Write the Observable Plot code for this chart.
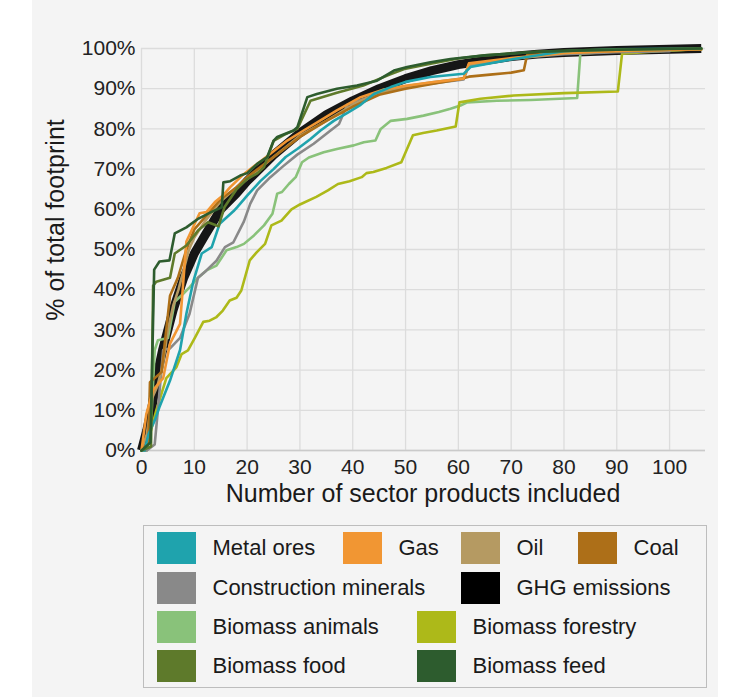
<!DOCTYPE html>
<html><head><meta charset="utf-8">
<script src="https://cdn.jsdelivr.net/npm/d3@7"></script>
<script src="https://cdn.jsdelivr.net/npm/@observablehq/plot@0.6"></script>
<style>
body{margin:0;background:#fff;font-family:"Liberation Sans",Arial,sans-serif;color:#1a1a1a;}
#panel{position:absolute;left:32px;top:0;width:686px;height:697px;background:#f4f4f4;}
#chart{position:absolute;left:32px;top:0;}
#ylab{position:absolute;left:-95px;top:205px;width:300px;height:30px;line-height:30px;font-size:25px;text-align:center;transform:rotate(-90deg);transform-origin:50% 50%;white-space:nowrap;}
#xlab{position:absolute;left:173px;top:478px;width:500px;line-height:30px;font-size:25px;text-align:center;white-space:nowrap;}
#legend{position:absolute;left:143px;top:525px;width:562px;height:161px;border:1.5px solid #bdbdbd;}
.sw{position:absolute;width:39px;height:32px;}
.lt{position:absolute;height:32px;line-height:32px;font-size:22px;white-space:nowrap;}
</style></head><body>
<div id="panel"></div>
<div id="chart"></div>
<div id="ylab">% of total footprint</div>
<div id="xlab">Number of sector products included</div>
<div id="legend"></div>
<script>
// Series names and colours
const seriesNames = ["Metal ores","Gas","Oil","Coal","Construction minerals","GHG emissions","Biomass animals","Biomass forestry","Biomass food","Biomass feed"];
const seriesColors = ["#1fa3ad","#f19633","#b59a62","#ad6f18","#898989","#000000","#89c27a","#adb919","#5e7a2b","#2d5c2e"];
const xTicks = [0,10,20,30,40,50,60,70,80,90,100];
const yTicks = [0,10,20,30,40,50,60,70,80,90,100];

// Cumulative % of total footprint vs number of sector products, [x, y]
const metalOres = [[0,0],[0.6,0],[1.3,4],[2.5,7.5],[3.4,10.8],[5.4,17.4],[7.3,25],[8.5,34],[9.8,42],[11.4,49],[13.3,50.6],[14.8,56.4],[17.4,59.5],[18.1,60.5],[20,63.4],[22.5,67],[25,70],[27.3,73],[29.5,75],[32,77.5],[33.9,79.6],[36.4,82],[39,84],[41.5,86],[44,88.7],[47.2,90.4],[50,91.7],[54.7,92.9],[61,93.7],[62.3,95.4],[70.5,97.4],[80,99.3],[89.5,99.8],[106,100]];
const gas = [[0,0],[0.9,9],[2.2,15],[4.1,18],[5.4,26.6],[7.3,31.5],[8.5,52],[11,59],[12.3,59.3],[13.9,61.8],[15.4,63.4],[16.8,65.5],[19.4,68.8],[24.4,73.8],[27.6,77.1],[30.7,79.6],[33.9,82.1],[37,84.6],[41.5,87.9],[45.9,89.8],[50.3,90.8],[55,91.6],[61,92.5],[62,96.3],[70,97.6],[80,98.9],[90,99.4],[100,99.7],[106,99.9]];
const oil = [[0,0],[1,4],[2,13],[3,16],[4,21],[5,30],[6,36],[7,40],[8,45],[9,50],[10,53],[12,57],[15,62],[18,65.5],[20,67.5],[25,73],[30,78.3],[35,82],[40,86],[45,89],[50,90.6],[55,91.6],[61,92.6],[62,96],[70,97.4],[80,98.8],[90,99.3],[100,99.6],[106,99.8]];
const coal = [[0,0],[1.3,2],[1.6,17],[3.8,19.5],[5.4,38.5],[6.9,43],[8.5,50],[10,55],[12,58],[15,62.5],[18,65.5],[20,68],[25,73],[30,78],[35,82],[40,85.5],[45,88.5],[50,90],[55,91.2],[60,92.3],[62,93],[66,93.5],[70,94],[72.4,94.6],[73,98.3],[80,99],[90,99.4],[100,99.7],[106,99.8]];
const construction = [[0,0],[1,0],[2.5,1.5],[3.1,10],[4.1,25],[5.4,25.4],[7.3,28],[9.1,34],[10.7,43],[12.3,44.8],[14.2,47.2],[15.8,50.6],[17.4,51.8],[19.4,57],[20.6,61.4],[21.9,64.7],[24.4,68],[26.9,70.8],[29.5,73.6],[32.6,76.3],[35.8,79.6],[37.4,81.2],[38.3,84],[39,86],[45,88.8],[50,90.3],[55,91.3],[61,92.3],[62,95.8],[70,97.5],[80,98.6],[90,99.1],[100,99.3]];
const ghg = [[0,0],[1,5],[2,11],[3,19],[4,25],[5,30],[6,35],[7,39],[8,43],[9,46],[10,49],[12,53.5],[15,60],[18,64],[20,67],[25,73.5],[30,79],[35,83.5],[40,87],[45,90],[50,92.5],[55,94.5],[60,96],[65,97],[70,98],[75,98.6],[80,99],[90,99.5],[100,99.8],[106,100]];
const biomassAnimals = [[0,0],[1,0],[1.9,9],[2.5,25],[3.1,27.4],[5,28],[6.3,37],[7.9,39],[9.1,40.6],[10.7,43],[12.3,44.8],[14.2,46],[16.1,49.8],[18,50.6],[19.4,51.4],[21.3,53.5],[23.2,56],[24.8,58.9],[25.7,63.9],[26.6,64.3],[27.9,66.3],[29.2,68],[30.4,71.7],[31.7,72.9],[34.5,74.2],[37,75],[40.2,75.9],[42.1,76.7],[44.3,77.1],[45.3,80],[47.2,82],[50.3,82.5],[53.4,83.3],[56.3,84.2],[58.5,85],[60.4,85.8],[61.7,86.6],[67.3,87],[73.7,87.2],[82.5,87.7],[83.1,98.7],[90,99.3],[100,99.6],[106,99.8]];
const biomassForestry = [[0,0],[1,1],[2.8,10],[4.7,18],[5.4,19],[6.6,20.7],[7.6,24],[8.8,24.9],[10.1,28],[11.7,32],[12.9,32.3],[14.2,33.2],[15.4,34.8],[16.7,37.3],[18,38],[18.9,39.8],[20.5,47.3],[21.8,49.3],[23.4,51.4],[24.6,56],[26.5,57.2],[28.4,60],[30,61.2],[33.1,63.1],[35.3,64.7],[37.2,66.3],[39.4,67],[41.7,68],[42.6,69],[43.9,69.3],[46.4,70.3],[49.2,71.7],[51.4,78.4],[53.3,79],[55.9,79.6],[59.5,80.6],[60.2,86.6],[64.2,87.5],[70.5,88.3],[80,88.9],[90.2,89.3],[91,98.7],[100,99.5],[106,99.8]];
const biomassFood = [[0,0],[1.8,1],[2.2,41],[2.8,42],[5.4,43],[6.3,49],[8.5,51],[10.7,54.7],[12.6,56.8],[14.6,55.8],[15.7,60.5],[18,65],[20,67.5],[22,69],[23.2,70.5],[25,77],[27,78.5],[29.5,80],[32,87],[37,89],[42,90.8],[47,93.5],[50,95],[55,96.3],[60,97.5],[65,98.3],[75,99.2],[85,99.6],[95,99.8],[106,100]];
const biomassFeed = [[0,0],[1.7,2],[2.4,45],[3.4,47],[5.3,47.3],[6.3,54],[8.5,55.5],[10.8,57.7],[12.7,59],[15.2,60.5],[15.5,66.7],[16.8,67],[18.7,68.4],[20,69],[21.9,71.3],[23.8,73],[25,77],[25.7,78],[27.6,79],[28.8,79.6],[29.5,80.4],[31.4,87.9],[33.2,88.7],[37,90],[40.8,90.8],[44.6,92],[47.8,94.5],[50.3,95.4],[54.7,96.6],[58.5,97.4],[65,98.3],[75,99.2],[85,99.6],[95,99.8],[106,100]];

const seriesPoints = {
  "Metal ores": metalOres, "Gas": gas, "Oil": oil, "Coal": coal,
  "Construction minerals": construction, "GHG emissions": ghg,
  "Biomass animals": biomassAnimals, "Biomass forestry": biomassForestry,
  "Biomass food": biomassFood, "Biomass feed": biomassFeed
};
const toRows = name => seriesPoints[name].map(([x, y]) => ({series: name, x, y}));
const drawOrder = ["Biomass animals","Biomass forestry","Construction minerals","Oil","Coal","Gas","Metal ores","Biomass food","Biomass feed"];

const chart = Plot.plot({
  width: 686, height: 510,
  marginLeft: 109, marginRight: 13, marginTop: 48, marginBottom: 60,
  style: {background: "transparent", fontFamily: "'Liberation Sans', Arial, sans-serif", fontSize: "21px", color: "#222"},
  x: {domain: [0, 106.8], label: null},
  y: {domain: [0, 100], label: null},
  color: {domain: seriesNames, range: seriesColors},
  marks: [
    Plot.gridX(xTicks, {stroke: "#dcdcdc", strokeOpacity: 1, strokeWidth: 1.3}),
    Plot.gridY(yTicks, {stroke: "#dcdcdc", strokeOpacity: 1, strokeWidth: 1.3}),
    Plot.ruleY([0], {stroke: "#cacaca", strokeWidth: 1.6}),
    Plot.axisX(xTicks, {tickSize: 0, tickPadding: 9, fontSize: 21, label: null}),
    Plot.axisY(yTicks, {tickSize: 0, tickPadding: 6, fontSize: 21, label: null, tickFormat: d => d + "%"}),
    Plot.line(toRows("GHG emissions"), {x: "x", y: "y", stroke: "#161616", strokeWidth: 9, strokeLinejoin: "round", strokeLinecap: "butt"}),
    ...drawOrder.map(name => Plot.line(toRows(name), {x: "x", y: "y", stroke: "series", strokeWidth: 2.6, strokeLinejoin: "round"}))
  ]
});
document.getElementById("chart").appendChild(chart);

// Legend
const legendRows = [[0,1,2,3],[4,5],[6,7],[8,9]];
const legendX = [[157,343,461,578],[157,461],[157,417],[157,417]];
const legendY = [532,572,611,650];
const legend = document.getElementById("legend");
legendRows.forEach((row, r) => {
  row.forEach((idx, c) => {
    const left = legendX[r][c] - 144.5, top = legendY[r] - 526.5;
    const sw = document.createElement("div");
    sw.className = "sw";
    sw.style.left = left + "px"; sw.style.top = top + "px";
    sw.style.background = seriesColors[idx];
    legend.appendChild(sw);
    const t = document.createElement("div");
    t.className = "lt";
    t.style.left = (left + 56) + "px"; t.style.top = top + "px";
    t.textContent = seriesNames[idx];
    legend.appendChild(t);
  });
});
</script>
</body></html>
